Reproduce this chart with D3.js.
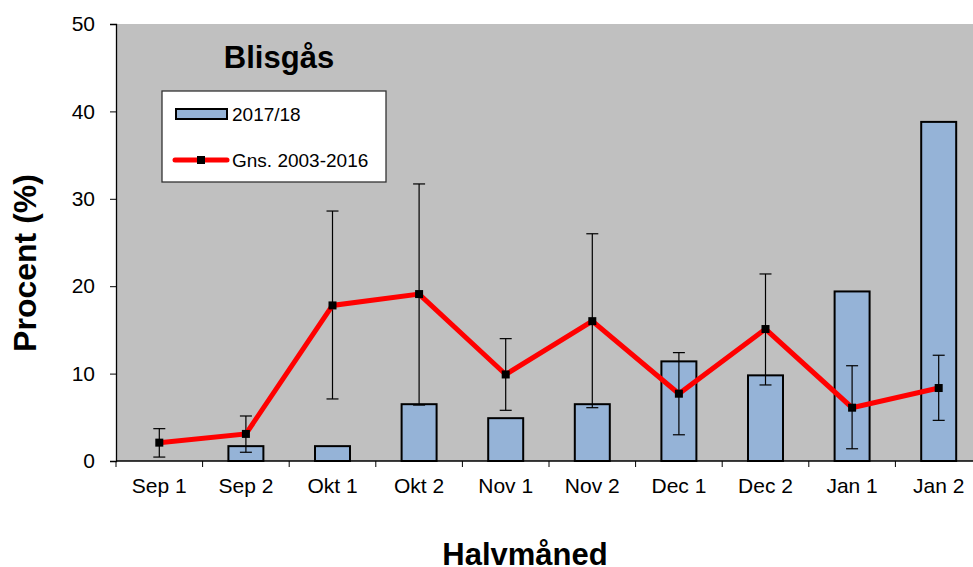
<!DOCTYPE html>
<html>
<head>
<meta charset="utf-8">
<script src="https://cdn.jsdelivr.net/npm/d3@7"></script>
<style>
  body { margin: 0; background: #fff; }
  text { font-family: "Liberation Sans", Arial, sans-serif; fill: #000; }
</style>
</head>
<body>
<div id="chart"></div>
<script>
// data
var categories = ["Sep 1", "Sep 2", "Okt 1", "Okt 2", "Nov 1", "Nov 2", "Dec 1", "Dec 2", "Jan 1", "Jan 2"];
var season = [0, 1.7, 1.7, 6.5, 4.9, 6.5, 11.4, 9.8, 19.4, 38.8];
var average = [2.1, 3.1, 17.8, 19.1, 9.9, 16.0, 7.7, 15.1, 6.1, 8.35];
var errLow = [0.45, 1.0, 7.1, 6.4, 5.8, 6.1, 3.0, 8.7, 1.4, 4.65];
var errHigh = [3.7, 5.15, 28.6, 31.7, 14.0, 26.0, 12.4, 21.4, 10.9, 12.1];
var yTicks = [0, 10, 20, 30, 40, 50];

var width = 973, height = 567;
var m = { left: 116, top: 24, right: -9, bottom: 106 };

var svg = d3.select("#chart").append("svg")
	.attr("width", width)
	.attr("height", height);

// scales
var x = d3.scaleBand()
	.domain(categories)
	.range([m.left, width - m.right])
	.paddingInner(0)
	.paddingOuter(0);

var y = d3.scaleLinear()
	.domain([0, 50])
	.range([height - m.bottom, m.top]);

// plot background
svg.append("rect")
	.attr("x", m.left)
	.attr("y", m.top)
	.attr("width", width - m.right - m.left)
	.attr("height", y(0) - m.top)
	.attr("fill", "#c0c0c0");

// bars
var barW = x.bandwidth() * 0.404;
svg.append("g").selectAll("rect")
	.data(categories.map(function(c, i) { return { cat: c, v: season[i] }; })
		.filter(function(d) { return d.v > 0; }))
	.enter().append("rect")
	.attr("x", function(d) { return x(d.cat) + (x.bandwidth() - barW) / 2; })
	.attr("y", function(d) { return y(d.v); })
	.attr("width", barW)
	.attr("height", function(d) { return y(0) - y(d.v); })
	.attr("fill", "#95b3d7")
	.attr("stroke", "#000")
	.attr("stroke-width", 2);

// axes
var yAxis = svg.append("g")
	.attr("transform", "translate(" + m.left + ",0)")
	.call(d3.axisLeft(y).tickValues(yTicks).tickSize(6).tickPadding(15));
yAxis.select(".domain").attr("stroke", "#000").attr("stroke-width", 1.3);
yAxis.selectAll("text").style("font-size", "21px");

var xAxis = svg.append("g")
	.attr("transform", "translate(0," + y(0) + ")");
xAxis.append("line")
	.attr("x1", m.left).attr("x2", width)
	.attr("stroke", "#000").attr("stroke-width", 1.3);
xAxis.selectAll(".tk")
	.data(categories)
	.enter().append("line")
	.attr("x1", function(d) { return x(d); })
	.attr("x2", function(d) { return x(d); })
	.attr("y2", 6)
	.attr("stroke", "#000");
xAxis.selectAll(".lbl")
	.data(categories)
	.enter().append("text")
	.attr("x", function(d) { return x(d) + x.bandwidth() / 2; })
	.attr("y", 32)
	.attr("text-anchor", "middle")
	.style("font-size", "21px")
	.text(function(d) { return d; });

// error bars
var cx = function(i) { return x(categories[i]) + x.bandwidth() / 2; };
var eb = svg.append("g").attr("stroke", "#000").attr("stroke-width", 1.2);
categories.forEach(function(c, i) {
	eb.append("line")
		.attr("x1", cx(i)).attr("x2", cx(i))
		.attr("y1", y(errLow[i])).attr("y2", y(errHigh[i]));
	[errLow[i], errHigh[i]].forEach(function(v) {
		eb.append("line")
			.attr("x1", cx(i) - 6).attr("x2", cx(i) + 6)
			.attr("y1", y(v)).attr("y2", y(v));
	});
});

// average line
var line = d3.line()
	.x(function(d, i) { return cx(i); })
	.y(function(d) { return y(d); });
svg.append("path")
	.datum(average)
	.attr("d", line)
	.attr("fill", "none")
	.attr("stroke", "#ff0000")
	.attr("stroke-width", 5);

svg.append("g").selectAll("rect")
	.data(average)
	.enter().append("rect")
	.attr("x", function(d, i) { return cx(i) - 4; })
	.attr("y", function(d) { return y(d) - 4; })
	.attr("width", 8)
	.attr("height", 8)
	.attr("fill", "#000");

// title
svg.append("text")
	.attr("x", 279)
	.attr("y", 68)
	.attr("text-anchor", "middle")
	.style("font-size", "31px")
	.style("font-weight", "bold")
	.text("Blisgås");

// legend
var lg = svg.append("g");
lg.append("rect")
	.attr("x", 162).attr("y", 91)
	.attr("width", 224).attr("height", 91)
	.attr("fill", "#fff")
	.attr("stroke", "#333")
	.attr("stroke-width", 1.3);
lg.append("rect")
	.attr("x", 176).attr("y", 109)
	.attr("width", 51).attr("height", 10)
	.attr("fill", "#95b3d7")
	.attr("stroke", "#000")
	.attr("stroke-width", 2);
lg.append("text")
	.attr("x", 232).attr("y", 121)
	.style("font-size", "19px")
	.text("2017/18");
lg.append("line")
	.attr("x1", 175).attr("x2", 227)
	.attr("y1", 160).attr("y2", 160)
	.attr("stroke", "#ff0000")
	.attr("stroke-width", 5)
	.attr("stroke-linecap", "round");
lg.append("rect")
	.attr("x", 197).attr("y", 156)
	.attr("width", 8).attr("height", 8)
	.attr("fill", "#000");
lg.append("text")
	.attr("x", 232).attr("y", 167)
	.style("font-size", "19px")
	.text("Gns. 2003-2016");

// axis titles
svg.append("text")
	.attr("x", 525)
	.attr("y", 565)
	.attr("text-anchor", "middle")
	.style("font-size", "31px")
	.style("font-weight", "bold")
	.text("Halvmåned");

svg.append("text")
	.attr("transform", "translate(36,263) rotate(-90)")
	.attr("text-anchor", "middle")
	.style("font-size", "32px")
	.style("font-weight", "bold")
	.text("Procent (%)");
</script>
</body>
</html>
